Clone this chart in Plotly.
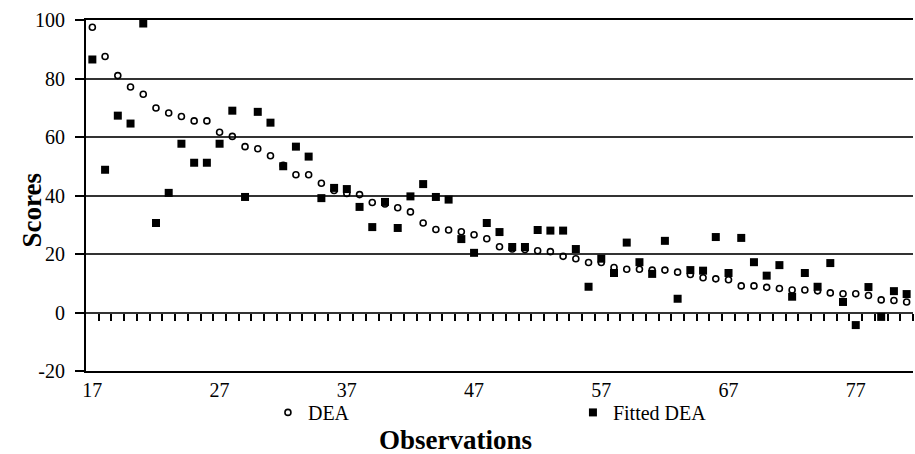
import plotly.graph_objects as go

observations = list(range(17, 82))
dea = [97.5, 87.5, 81.0, 77.1, 74.6, 69.9, 68.2, 67.0, 65.5, 65.5,
       61.6, 60.2, 56.7, 56.0, 53.6, 50.3, 47.1, 47.1, 44.2, 41.7,
       40.7, 40.3, 37.6, 37.1, 35.8, 34.4, 30.6, 28.4, 28.2, 27.6,
       26.6, 25.2, 22.5, 21.7, 21.5, 21.1, 20.8, 19.2, 18.4, 17.1,
       17.1, 15.4, 14.8, 14.8, 14.5, 14.5, 13.8, 13.0, 11.9, 11.5,
       11.2, 9.1, 9.1, 8.6, 8.2, 7.7, 7.7, 7.4, 6.7, 6.4,
       6.4, 5.8, 4.3, 4.1, 3.6]
fitted_dea = [86.5, 48.8, 67.3, 64.6, 98.8, 30.6, 40.9, 57.7, 51.2, 51.2,
              57.7, 69.0, 39.5, 68.6, 64.9, 50.0, 56.7, 53.3, 39.1, 42.6,
              42.2, 36.1, 29.2, 37.8, 28.9, 39.7, 43.9, 39.5, 38.6, 25.1,
              20.4, 30.6, 27.5, 22.4, 22.4, 28.2, 28.0, 28.0, 21.7, 8.8,
              18.4, 13.5, 23.9, 17.2, 13.2, 24.5, 4.7, 14.5, 14.3, 25.8,
              13.5, 25.5, 17.2, 12.6, 16.2, 5.4, 13.5, 8.8, 16.9, 3.6,
              -4.3, 8.7, -1.5, 7.3, 6.3]
x_tick_vals = [17, 27, 37, 47, 57, 67, 77]
x_tick_text = ["17", "27", "37", "47", "57", "67", "77"]
y_tick_vals = [-20, 0, 20, 40, 60, 80, 100]
y_tick_text = ["-20", "0", "20", "40", "60", "80", "100"]

FONT = "Liberation Serif, Times New Roman, serif"

x_range = [observations[0] - 0.5, observations[-1] + 0.5]
boundaries = [o + 0.5 for o in observations]

fig = go.Figure()
fig.add_trace(go.Scatter(
    x=observations, y=dea, mode="markers", name="DEA",
    marker=dict(symbol="circle-open", size=6, color="black", line=dict(width=1.6, color="black")),
))
fig.add_trace(go.Scatter(
    x=observations, y=fitted_dea, mode="markers", name="Fitted DEA",
    marker=dict(symbol="square", size=8, color="black", line=dict(width=0)),
))
# helper trace so that the category tick axis at y=0 is drawn
fig.add_trace(go.Scatter(
    x=observations, y=dea, xaxis="x2", yaxis="y", mode="none",
    showlegend=False, hoverinfo="skip",
))

fig.update_layout(
    width=915, height=454,
    margin=dict(l=86, r=2, t=20, b=83),
    paper_bgcolor="white", plot_bgcolor="white",
    font=dict(family=FONT, size=20, color="black"),
    showlegend=True,
    legend=dict(
        orientation="h", x=0.22, xanchor="left", y=-0.118, yanchor="middle",
        entrywidth=260, entrywidthmode="pixels",
        font=dict(family=FONT, size=20, color="black"),
        bgcolor="rgba(0,0,0,0)",
    ),
    xaxis=dict(
        range=x_range, tickmode="array", tickvals=x_tick_vals, ticktext=x_tick_text,
        ticks="", showgrid=False, zeroline=False,
        showline=True, linecolor="black", linewidth=2, mirror=True,
        tickfont=dict(family=FONT, size=20, color="black"),
        ticklabelstandoff=0,
    ),
    xaxis2=dict(
        overlaying="x", anchor="free", position=20 / 120, side="bottom",
        range=x_range, tickmode="array", tickvals=boundaries,
        ticks="outside", ticklen=7, tickwidth=1.5, tickcolor="black",
        showticklabels=False, showgrid=False, zeroline=False, showline=False,
    ),
    yaxis=dict(
        range=[-20, 100], tickmode="array", tickvals=y_tick_vals, ticktext=y_tick_text,
        showgrid=True, gridcolor="#333333", gridwidth=2, zeroline=False,
        showline=True, linecolor="black", linewidth=2,
        ticks="outside", ticklen=9, tickwidth=2, tickcolor="black",
        tickfont=dict(family=FONT, size=20, color="black"),
        ticklabelstandoff=6,
    ),
    annotations=[
        dict(text="<b>Scores</b>", textangle=-90, xref="paper", yref="paper",
             x=-0.065, y=0.458, xanchor="center", yanchor="middle", showarrow=False,
             font=dict(family=FONT, size=27, color="black")),
        dict(text="<b>Observations</b>", xref="paper", yref="paper",
             x=0.447, y=-0.198, xanchor="center", yanchor="middle", showarrow=False,
             font=dict(family=FONT, size=27, color="black")),
    ],
)

fig.write_html("out.html")
